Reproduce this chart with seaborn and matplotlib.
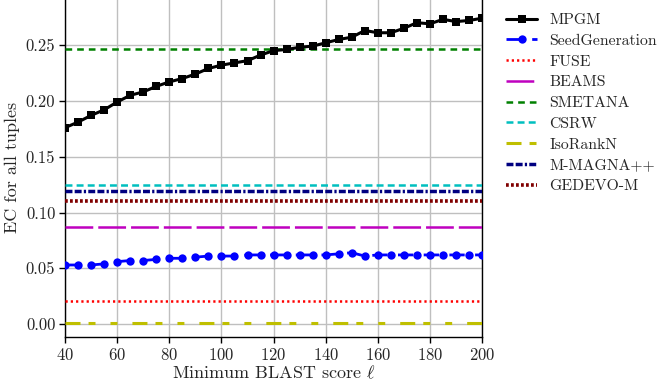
import numpy as np
import pandas as pd
import matplotlib
matplotlib.use("Agg")
import matplotlib.pyplot as plt
import seaborn as sns

# scores minimum BLAST
scores = list(range(40, 205, 5))

mpgm = [0.176, 0.181, 0.187, 0.192, 0.199, 0.205, 0.208, 0.213, 0.217, 0.220,
        0.224, 0.229, 0.232, 0.234, 0.236, 0.241, 0.245, 0.246, 0.248, 0.249,
        0.252, 0.255, 0.257, 0.263, 0.261, 0.261, 0.265, 0.270, 0.269, 0.273,
        0.271, 0.272, 0.274]

seed_generation = [0.053, 0.053, 0.053, 0.054, 0.056, 0.057, 0.057, 0.058, 0.059, 0.059,
                   0.060, 0.061, 0.061, 0.061, 0.062, 0.062, 0.062, 0.062, 0.062, 0.062,
                   0.062, 0.063, 0.064, 0.061, 0.062, 0.062, 0.062, 0.062, 0.062, 0.062,
                   0.062, 0.062, 0.062]

# methodes constantes
const_methods = ["FUSE", "BEAMS", "SMETANA", "CSRW", "IsoRankN", "M-MAGNA++", "GEDEVO-M"]
const_values = [0.021, 0.087, 0.246, 0.125, 0.001, 0.119, 0.110]

df = pd.DataFrame({"score": scores * 2,
                   "EC": mpgm + seed_generation,
                   "method": ["MPGM"] * len(scores) + ["SeedGeneration"] * len(scores)})

sns.set_style("whitegrid")
plt.rcParams["font.family"] = ["cmr10", "DejaVu Serif"]
plt.rcParams["mathtext.fontset"] = "cm"
plt.rcParams["axes.formatter.use_mathtext"] = True
plt.rcParams["axes.unicode_minus"] = False
plt.rcParams["lines.scale_dashes"] = False

fig = plt.figure(figsize=(6.64, 3.84), dpi=100)
ax = fig.add_axes([0.098, 0.1224, 0.628, 0.881])

styles = {
    "FUSE": dict(color="#ff0000", lw=1.8, dashes=(1.6, 2.2)),
    "BEAMS": dict(color="#bf00bf", lw=1.8, dashes=(20, 3.6)),
    "SMETANA": dict(color="#008000", lw=1.8, dashes=(4.8, 3.6)),
    "CSRW": dict(color="#00bfbf", lw=1.8, dashes=(5, 3)),
    "IsoRankN": dict(color="#bfbf00", lw=2.2, dashes=(10.8, 5.8, 5, 10.8, 5, 10.8)),
    "M-MAGNA++": dict(color="#000080", lw=2.5, dashes=(5, 1.6, 5, 1.6, 1.6, 1.6)),
    "GEDEVO-M": dict(color="#800000", lw=2.6, dashes=(2.0, 1.6)),
}

sns.lineplot(data=df[df.method == "MPGM"], x="score", y="EC", ax=ax, color="black",
             lw=2.2, marker="s", markersize=5.5, markeredgewidth=0, label="MPGM", zorder=5)
sns.lineplot(data=df[df.method == "SeedGeneration"], x="score", y="EC", ax=ax, color="#0000ff",
             lw=2.0, marker="o", markersize=6, markeredgewidth=0, dashes=False,
             label="SeedGeneration", zorder=4)
ax.lines[-1].set_dashes((11, 7.5))

for name, val in zip(const_methods, const_values):
    st = styles[name]
    ax.axhline(val, color=st["color"], lw=st["lw"], dashes=st["dashes"], label=name, zorder=3)

ax.set_xlim(40, 200)
ax.set_ylim(-0.0115, 0.2915)
ax.set_xticks(range(40, 201, 20))
ax.set_yticks(np.arange(0, 0.26, 0.05))
ax.yaxis.set_major_formatter(matplotlib.ticker.FormatStrFormatter("%.2f"))
ax.grid(True, color="#bfbfbf", lw=1.0)
for s in ax.spines.values():
    s.set_color("black")
    s.set_linewidth(1.0)
ax.tick_params(direction="out", length=4, width=1, color="black", labelsize=12, pad=3,
               bottom=True, left=True)
ax.set_xlabel(r"Minimum BLAST score $\ell$", fontsize=13, labelpad=1)
ax.set_ylabel("EC for all tuples", fontsize=13, labelpad=4)

ax.legend(loc="upper left", bbox_to_anchor=(1.035, 0.985), frameon=False, fontsize=11.3,
          handlelength=2.0, handletextpad=0.75, labelspacing=0.43, borderaxespad=0.2)

fig.savefig("out.png", dpi=100)
